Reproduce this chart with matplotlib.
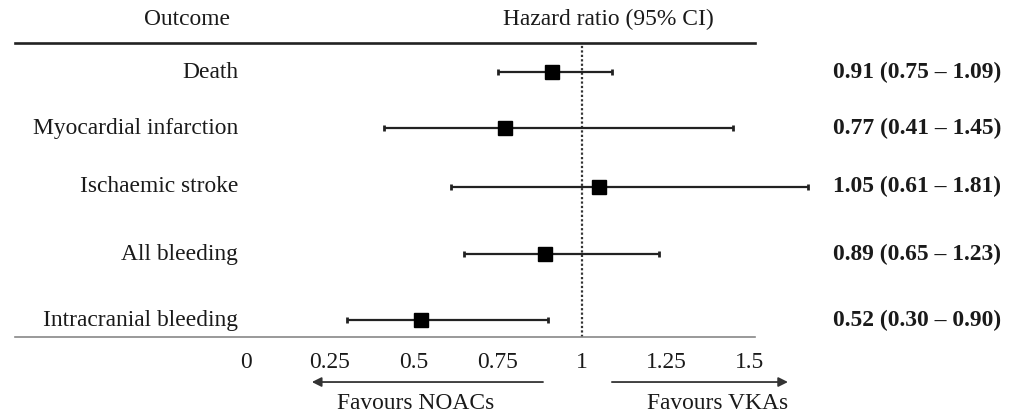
import numpy as np
import matplotlib.pyplot as plt
from matplotlib.transforms import blended_transform_factory

# -------------------------
# Data
# -------------------------
outcomes = ["Death", "Myocardial infarction", "Ischaemic stroke",
            "All bleeding", "Intracranial bleeding"]
hr = [0.91, 0.77, 1.05, 0.89, 0.52]
ci_lo = [0.75, 0.41, 0.61, 0.65, 0.30]
ci_hi = [1.09, 1.45, 1.81, 1.23, 0.90]
tick_vals = [0, 0.25, 0.5, 0.75, 1, 1.25, 1.5]
tick_labels = ["0", "0.25", "0.5", "0.75", "1", "1.25", "1.5"]

# -------------------------
# Layout
# -------------------------
row_y = [0, 1, 2.05, 3.25, 4.43]
ci_clip = 1.673          # CI lines are cut here in the original
ink = "#1a1a1a"
plt.rcParams["font.family"] = ["Liberation Serif", "DejaVu Serif"]
fs = 16.9

fig = plt.figure(figsize=(10.12, 4.16), dpi=100)
ax = fig.add_axes([15 / 1012, 79 / 416, 740 / 1012, 294 / 416])
ax.set_xlim(-0.6875, 1.5149)
ax.set_ylim(4.732, -0.518)

for s in ["left", "right"]:
    ax.spines[s].set_visible(False)
ax.spines["top"].set_linewidth(1.9)
ax.spines["top"].set_color("#222222")
ax.spines["bottom"].set_linewidth(1.2)
ax.spines["bottom"].set_color("#888888")

ax.set_yticks([])
ax.set_xticks(tick_vals)
ax.set_xticklabels(tick_labels)
ax.tick_params(axis="x", length=0, pad=11, labelsize=fs, labelcolor=ink)

# reference line at HR = 1
ax.axvline(1, color="#333333", lw=1.6, ls=(0, (1, 1)), zorder=1)

# CIs and point estimates
hi_drawn = np.minimum(ci_hi, ci_clip)
ax.hlines(row_y, ci_lo, hi_drawn, color="#222222", lw=1.6, zorder=2,
          clip_on=False)
ax.plot(ci_lo, row_y, ls="none", marker="|", ms=5, mew=2, color="#222222",
        clip_on=False)
ax.plot(hi_drawn, row_y, ls="none", marker="|", ms=5, mew=2, color="#222222",
        clip_on=False)
ax.plot(hr, row_y, ls="none", marker="s", ms=10.5, color="black", zorder=3)

# row labels and HR text
tr = blended_transform_factory(ax.transAxes, ax.transData)
for y, name, h, lo, hi in zip(row_y, outcomes, hr, ci_lo, ci_hi):
    ax.text(0.3014, y, name, transform=tr, ha="right", va="center",
            fontsize=fs, color=ink)
    ax.text(1.1054, y, f"{h:.2f} ({lo:.2f} \u2013 {hi:.2f})", transform=tr,
            ha="left", va="center", fontsize=fs, fontweight="bold",
            color=ink, clip_on=False)

# headers
ax.text(0.2324, -0.93, "Outcome", transform=tr, ha="center", va="center",
        fontsize=fs, color=ink, clip_on=False)
ax.text(0.8014, -0.93, "Hazard ratio (95% CI)", transform=tr, ha="center",
        va="center", fontsize=fs, color=ink, clip_on=False)

# favours arrows
arrow = dict(arrowstyle="-|>", color="#333333", lw=1.3, mutation_scale=14,
             shrinkA=0, shrinkB=0)
ax.annotate("", xy=(0.196, 5.536), xytext=(0.884, 5.536), arrowprops=arrow,
            annotation_clip=False)
ax.annotate("", xy=(1.613, 5.536), xytext=(1.089, 5.536), arrowprops=arrow,
            annotation_clip=False)
ax.text(0.506, 5.92, "Favours NOACs", ha="center", va="center", fontsize=fs,
        color=ink, clip_on=False)
ax.text(1.402, 5.92, "Favours VKAs", ha="center", va="center", fontsize=fs,
        color=ink, clip_on=False)

fig.savefig("out.png", dpi=100)
